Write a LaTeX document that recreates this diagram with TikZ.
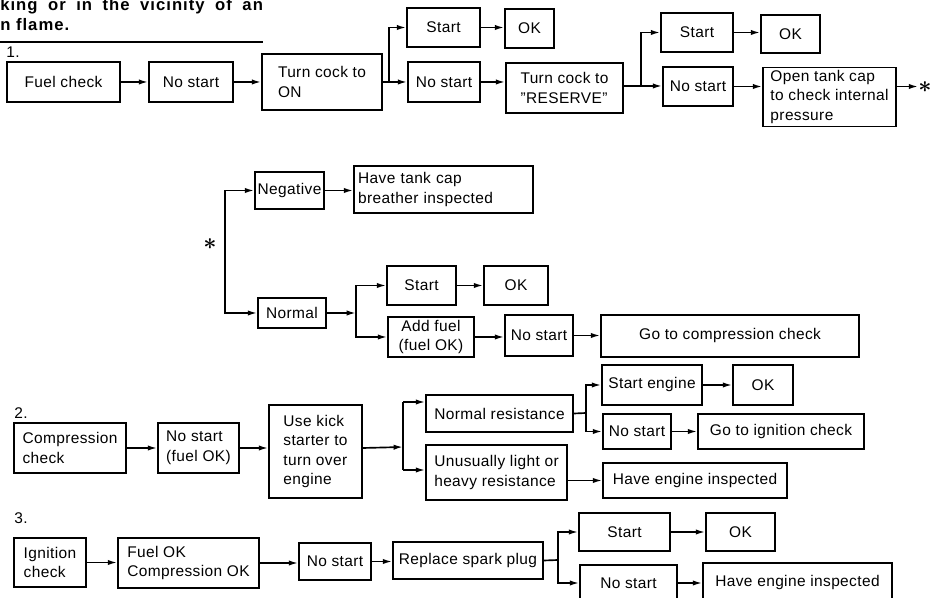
\documentclass[tikz,border=0pt]{standalone}
\usepackage{fontspec}
\setmainfont[LetterSpace=2.5]{Liberation Sans}
\newfontfamily\hdrfont[LetterSpace=6]{Liberation Sans}
\usetikzlibrary{arrows.meta,calc}
\tikzset{
 bx/.style={draw, line width=1.25pt, inner sep=2pt, font=\fontsize{11.6}{14.6}\selectfont, align=center},
 lft/.style={align=left},
 arr/.style={line width=1.25pt, -{Latex[length=7pt,width=4pt]}},
 ln/.style={line width=1.25pt},
 num/.style={font=\fontsize{11.6}{14}\selectfont, inner sep=0pt},
 hdr/.style={font=\hdrfont\bfseries\fontsize{12.5}{15}\selectfont, inner sep=0pt, anchor=base west},
 starmark/.style={font=\LARGE\boldmath, inner sep=0pt},
}
\newcommand\boxat[7][]{\node[bx, minimum width={(#5-#3)*0.75pt}, minimum height={(#6-#4)*0.75pt}, #1] (#2) at ({(#3+#5)/2},{(#4+#6)/2}) {#7};}
\begin{document}
\begin{tikzpicture}[x=0.75pt,y=-0.75pt]
\useasboundingbox (0,0) rectangle (932,598);
\clip (0,0) rectangle (932,598);
% header
\node[hdr] (h1) at (0,11) {\makebox[197pt][s]{king or in the vicinity of an}};
\node[hdr] (h2) at (0,31) {n flame.};
\draw[line width=1.5pt] (0,42) -- (263,42);
% section 1
\node[num] (n1) at (13,52) {1.};
\boxat{fuel}{7}{62}{120}{102}{Fuel check}
\boxat{ns1}{149}{62}{233}{102}{No start}
\boxat[lft]{on}{262}{54}{382}{110}{Turn cock to\\ON}
\boxat{st1}{407}{8}{480}{47}{Start}
\boxat{ok1}{505}{9}{554}{48}{OK}
\boxat{ns2}{408}{62}{480}{102}{No start}
\boxat[lft]{res}{506}{63}{623}{113}{Turn cock to\\''RESERVE''}
\boxat{st2}{661}{13}{733}{52}{Start}
\boxat{ok2}{761}{15}{820}{53}{OK}
\boxat{ns3}{663}{67}{733}{106}{No start}
\boxat[lft]{otc}{763}{69}{896}{125}{Open tank cap\\to check internal\\pressure}
\node[starmark] (star1) at (925,87) {$\ast$};
\draw[arr] (fuel.east) -- (ns1.west);
\draw[arr] (ns1.east) -- (on.west);
\draw[ln] (on.east) -- ++(6,0) coordinate (b1);
\draw[arr] (b1) |- (st1.west);
\draw[arr] (b1) -- (b1 -| ns2.west);
\draw[arr] (st1.east) -- (st1.east -| ok1.west);
\draw[arr] (ns2.east) -- (ns2.east -| res.west);
\coordinate (b2) at (641,86);
\draw[ln] (b2 -| res.east) -- (b2);
\draw[arr] (b2) |- (st2.west);
\draw[arr] (b2) -- (b2 -| ns3.west);
\draw[arr] (st2.east) -- (st2.east -| ok2.west);
\draw[arr] (ns3.east) -- (ns3.east -| otc.west);
\draw[arr] (ns3.east -| otc.east) -- (ns3.east -| star1.west);
% star section
\node[starmark] (star2) at (210,244) {$\ast$};
\boxat[inner xsep=1pt]{neg}{255}{172}{324}{209}{Negative}
\boxat[text width=128pt, align=left]{tcb}{354}{166}{533}{213}{Have tank cap\\breather inspected}
\boxat{nor}{258}{298}{326}{328}{Normal}
\boxat{st3}{387}{266}{456}{305}{Start}
\boxat{ok3}{484}{266}{548}{305}{OK}
\boxat{af}{388}{317}{474}{357}{Add fuel\\(fuel OK)}
\boxat{ns4}{505}{315}{573}{356}{No start}
\boxat{gcc}{601}{315}{859}{357}{Go to compression check}
\coordinate (v) at (225,250);
\draw[arr] (v) |- (neg.west);
\draw[arr] (v) |- (nor.west);
\draw[arr] (neg.east) -- (neg.east -| tcb.west);
\coordinate (b3) at (356,313);
\draw[arr] (nor.east) -- (b3);
\draw[arr] (b3) |- (st3.west);
\draw[arr] (b3) |- (af.west);
\draw[arr] (st3.east) -- (st3.east -| ok3.west);
\draw[arr] (af.east) -- (af.east -| ns4.west);
\draw[arr] (ns4.east) -- (ns4.east -| gcc.west);
% section 2
\node[num] (n2) at (21,413) {2.};
\boxat[lft]{cc}{14}{423}{126}{473}{Compression\\check}
\boxat[lft]{ns5}{158}{423}{239}{473}{No start\\(fuel OK)}
\boxat[lft]{uk}{269}{405}{362}{498}{Use kick\\starter to\\turn over\\engine}
\boxat{nr}{426}{395}{573}{432}{Normal resistance}
\boxat[lft]{ul}{426}{445}{567}{500}{Unusually light or\\heavy resistance}
\boxat{se}{602}{365}{702}{405}{Start engine}
\boxat{ok5}{733}{365}{793}{405}{OK}
\boxat{ns6}{603}{414}{671}{449}{No start}
\boxat{gic}{698}{414}{864}{449}{Go to ignition check}
\boxat{hei1}{603}{463}{787}{498}{Have engine inspected}
\draw[arr] (cc.east) -- (ns5.west);
\draw[arr] (ns5.east) -- (ns5.east -| uk.west);
\coordinate (b4) at (403,447);
\coordinate (b4t) at (403,402);
\coordinate (b4b) at (403,470);
\draw[arr] (ns5.east -| uk.east) -- (b4);
\draw[ln] (b4t) -- (b4b);
\draw[arr] (b4t) -- (b4t -| nr.west);
\draw[arr] (b4b) -- (b4b -| ul.west);
\coordinate (b5) at (586,413);
\draw[ln] (nr.east) -- (b5);
\draw[arr] (b5) |- (se.west);
\draw[arr] (b5) |- (ns6.west);
\draw[arr] (se.east) -- (ok5.west);
\draw[arr] (ns6.east) -- (gic.west);
\draw[arr] (hei1.west -| ul.east) -- (hei1.west);
% section 3
\node[num] (n3) at (21,518) {3.};
\boxat[lft]{ic}{14}{538}{86}{587}{Ignition\\check}
\boxat[lft]{fco}{118}{538}{259}{588}{Fuel OK\\Compression OK}
\boxat{ns7}{299}{543}{371}{580}{No start}
\boxat{rsp}{393}{542}{543}{579}{Replace spark plug}
\boxat{st6}{579}{513}{670}{551}{Start}
\boxat{ok6}{706}{513}{775}{551}{OK}
\boxat{ns8}{580}{565}{677}{601}{No start}
\boxat{hei2}{703}{563}{892}{601}{Have engine inspected}
\draw[arr] (ic.east) -- (ic.east -| fco.west);
\draw[arr] (fco.east) -- (fco.east -| ns7.west);
\draw[arr] (ns7.east) -- (ns7.east -| rsp.west);
\coordinate (b6) at (558,560);
\draw[ln] (rsp.east) -- (b6);
\draw[arr] (b6) |- (st6.west);
\draw[arr] (b6) |- (ns8.west);
\draw[arr] (st6.east) -- (st6.east -| ok6.west);
\draw[arr] (ns8.east) -- (ns8.east -| hei2.west);
\end{tikzpicture}
\end{document}
